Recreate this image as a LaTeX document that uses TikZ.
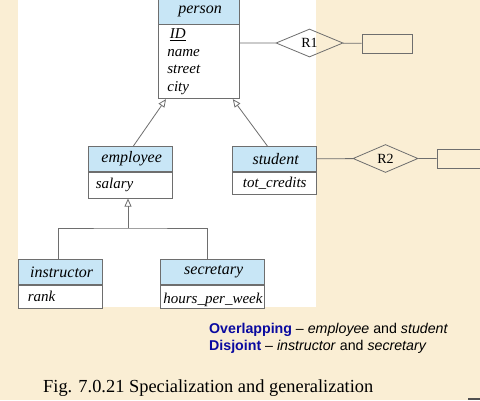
\documentclass[tikz,border=0pt]{standalone}
\usepackage{fontspec}
\setmainfont{Liberation Serif}
\setsansfont{Liberation Sans}
\usepackage{xcolor}
\definecolor{Paper}{RGB}{250,238,212}
\definecolor{White}{RGB}{255,255,255}
\definecolor{Head}{RGB}{200,230,246}
\definecolor{Edge}{RGB}{110,110,110}
\definecolor{Navy}{RGB}{10,10,160}
\definecolor{Mark}{RGB}{80,80,80}
\newcommand{\headfont}		{ \itshape\fontsize{16}{16}\selectfont }
\newcommand{\attrfont}		{ \itshape\fontsize{15}{17.7}\selectfont }
\usetikzlibrary{positioning, shapes.geometric, arrows.meta}

\tikzset{
	enthead/.style={draw=Edge, fill=Head, line width=0.8pt, anchor=north west, minimum height=25pt, inner sep=0pt, font=\headfont},
	entattr/.style={draw=Edge, fill=White, line width=0.8pt, inner ysep=0pt, align=left, font=\attrfont},
	rel/.style={diamond, draw=Edge, line width=0.8pt, inner sep=0pt, minimum width=67pt, minimum height=28pt, font=\fontsize{14}{14}\selectfont},
	stub/.style={draw=Edge, line width=0.8pt, inner sep=0pt, minimum height=19pt},
	link/.style={draw=Edge, line width=0.8pt},
	isa/.style={link, -{Triangle[open, length=8pt, width=7pt]}},
	note/.style={anchor=west, align=left, inner sep=0pt, font=\sffamily\fontsize{14.2}{17}\selectfont},
	caption/.style={anchor=west, inner sep=0pt, font=\fontsize{18.4}{18.4}\selectfont}
}

\begin{document}
\begin{tikzpicture}[x=1pt, y=-1pt]

		\useasboundingbox (0,0) rectangle (480,400);

		% Background
		\fill[Paper] (0,0) rectangle (480,400);
		\fill[White] (18,0) rectangle (316,307);
		\fill[Mark] (468,398) rectangle (480,400);

		% Entities
		\node[enthead, minimum width=81pt] (person) at (158,-1.5) {person};
		\node[entattr, below=0pt of person, minimum height=74pt, inner xsep=9pt, text width=63pt] (personA) {\underline{ID}\\ name\\ street\\ city};

		\node[enthead, minimum width=84pt] (employee) at (88,146) {employee};
		\node[entattr, below=0pt of employee, minimum height=26pt, inner xsep=5pt, text width=74pt] (employeeA) {salary};

		\node[enthead, minimum width=84pt] (student) at (232,146) {student};
		\node[entattr, below=0pt of student, minimum height=22pt, inner xsep=8pt, text width=68pt] (studentA) {tot\_credits};

		\node[enthead, minimum width=84pt] (instructor) at (18,259) {instructor};
		\node[entattr, below=0pt of instructor, minimum height=23pt, inner xsep=7pt, text width=70pt] (instructorA) {rank};

		\node[enthead, minimum width=104pt] (secretary) at (160,259) {secretary};
		\node[entattr, below=0pt of secretary, minimum height=23pt, inner xsep=3pt, text width=98pt] (secretaryA) {hours\_per\_week};

		% Relationships
		\node[rel] (r1) at (309.5,43) {R1};
		\node[stub, minimum width=50pt] (e1) at (387,43.5) {};
		\node[rel, minimum width=65pt] (r2) at (385.5,158.5) {R2};
		\node[stub, minimum width=53pt] (e2) at (463.5,158.5) {};

		\draw[link] (personA.east |- r1) -- (r1) -- (e1);
		\draw[link] (student) -- (r2) -- (e2);

		% Specialization
		\draw[isa] ([xshift=3pt]employee.north) -- ([xshift=8pt]personA.south west);
		\draw[isa] ([xshift=-7pt]student.north) -- ([xshift=-7pt]personA.south east);

		\coordinate (fork) at (128,228);
		\draw[isa] (fork) -- (fork |- employeeA.south);
		\draw[link] ([xshift=-2pt]instructor.north) |- (fork) -| ([xshift=-5pt]secretary.north);

		% Notes
		\node[note] (kinds) at (209,338.5) {\textcolor{Navy}{\textbf{Overlapping}} – \textit{employee} and \textit{student}\\ \textcolor{Navy}{\textbf{Disjoint}} – \textit{instructor} and \textit{secretary}};
		\node[caption] (cap) at (43,388) {Fig. 7.0.21 Specialization and generalization};

\end{tikzpicture}
\end{document}
